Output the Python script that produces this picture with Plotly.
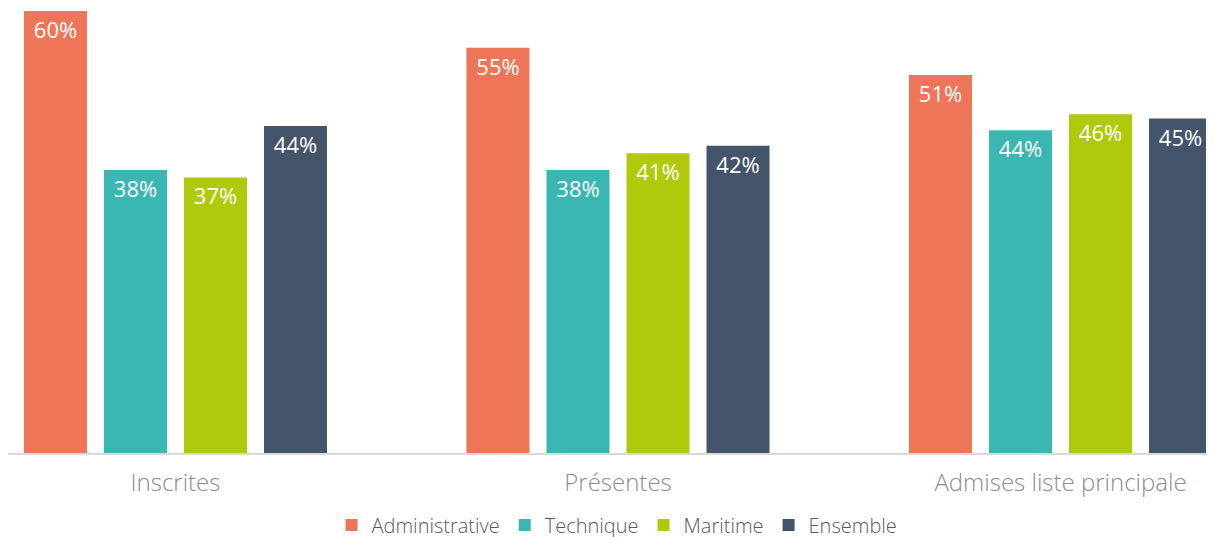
import plotly.graph_objects as go

categories = ["Inscrites", "Présentes", "Admises liste principale"]
series_names = ["Administrative", "Technique", "Maritime", "Ensemble"]
administrative = [60.0, 55.0, 51.3]
technique = [38.4, 38.4, 43.8]
maritime = [37.4, 40.7, 46.0]
ensemble = [44.4, 41.7, 45.4]
colors = ["#EE7658", "#3AB7B3", "#AFCA0B", "#44546A"]

FONT = "Open Sans"
fig = go.Figure()
for name, vals, col in zip(series_names, [administrative, technique, maritime, ensemble], colors):
    fig.add_trace(go.Bar(
        x=categories, y=vals, name=name, marker_color=col,
        marker_line_width=0,
        texttemplate="%{y:.0f}%", textposition="inside", insidetextanchor="end",
        textangle=0,
        textfont=dict(color="white", size=22, family=FONT),
    ))

fig.update_layout(
    width=1206, height=537,
    margin=dict(l=0, r=0, t=3, b=92, autoexpand=False),
    paper_bgcolor="white", plot_bgcolor="white",
    barmode="group", bargap=0.2768, bargroupgap=0.2125,
    font=dict(family=FONT),
    legend=dict(orientation="h", x=0.505, xanchor="center", y=-0.163, yanchor="middle",
                font=dict(size=20, color="#595959", family=FONT, weight=300),
                itemwidth=30, traceorder="normal"),
    showlegend=True,
)
fig.update_xaxes(range=[-0.3785, 2.3469], showline=True, linecolor="#D9D9D9", linewidth=1.5,
                 ticks="", ticklabelstandoff=7, automargin=False,
                 tickfont=dict(size=24, color="#8C8C8C", family=FONT, weight=300), showgrid=False)
fig.update_yaxes(range=[0, 60], visible=False, showgrid=False, zeroline=False, automargin=False)

fig.write_html("out.html")
